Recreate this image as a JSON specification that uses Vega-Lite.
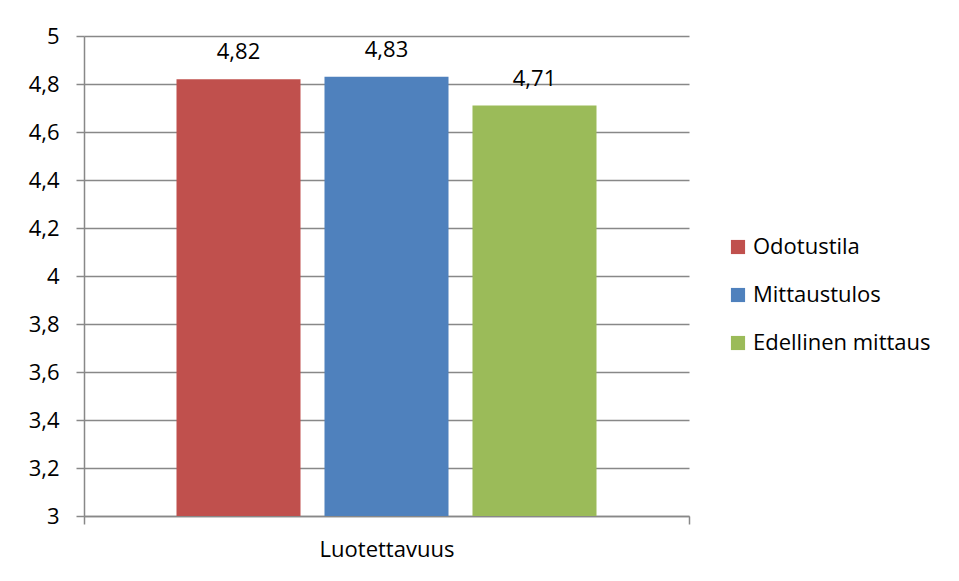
{
  "$schema": "https://vega.github.io/schema/vega-lite/v6.json",
  "width": 605,
  "height": 480,
  "autosize": {"type": "none"},
  "padding": {"left": 84, "top": 36, "right": 270, "bottom": 65},
  "background": "white",
  "config": {
    "locale": {"number": {"decimal": ",", "thousands": " ", "grouping": [3], "currency": ["", " €"]}},
    "font": "Open Sans",
    "view": {"stroke": null},
    "axis": {"labelFont": "Open Sans", "labelFontSize": 22, "labelColor": "black", "domainColor": "#888888", "tickColor": "#888888", "gridColor": "#888888", "domainWidth": 1.5, "tickWidth": 1.5, "gridWidth": 1.5},
    "legend": {"labelFont": "Open Sans", "labelFontSize": 22, "labelColor": "black", "labelLimit": 400}
  },
  "data": {"values": [
    {"cat": "Luotettavuus", "series": "Odotustila", "value": 4.82},
    {"cat": "Luotettavuus", "series": "Mittaustulos", "value": 4.83},
    {"cat": "Luotettavuus", "series": "Edellinen mittaus", "value": 4.71}
  ]},
  "encoding": {
    "x": {"field": "cat", "type": "nominal", "scale": {"paddingInner": 0, "paddingOuter": 0},
      "axis": {"title": null, "labelAngle": 0, "labelPadding": 15, "ticks": true, "tickSize": 8, "tickBand": "extent", "grid": false, "labelBaseline": "top"}},
    "xOffset": {"field": "series", "type": "nominal", "sort": ["Odotustila", "Mittaustulos", "Edellinen mittaus"], "scale": {"paddingInner": 0.162, "paddingOuter": 0.625}},
    "y": {"field": "value", "type": "quantitative", "scale": {"domain": [3, 5], "zero": false, "nice": false},
      "axis": {"title": null, "values": [3, 3.2, 3.4, 3.6, 3.8, 4, 4.2, 4.4, 4.6, 4.8, 5], "format": "~g", "tickSize": 8, "labelPadding": 17, "grid": true}}
  },
  "layer": [
    {
      "mark": {"type": "bar"},
      "encoding": {
        "y2": {"datum": 3},
        "color": {"field": "series", "type": "nominal", "sort": ["Odotustila", "Mittaustulos", "Edellinen mittaus"],
          "scale": {"domain": ["Odotustila", "Mittaustulos", "Edellinen mittaus"], "range": ["#C0504D", "#4F81BD", "#9BBB59"]},
          "legend": {"title": null, "orient": "none", "legendX": 643, "legendY": 200, "symbolType": "square", "symbolSize": 200, "symbolStrokeWidth": 0, "symbolOpacity": 1, "rowPadding": 26, "labelOffset": 4, "labelLimit": 400}}
      }
    },
    {
      "mark": {"type": "text", "baseline": "middle", "dy": -27, "fontSize": 22, "font": "Open Sans", "color": "black"},
      "encoding": {"text": {"field": "value", "type": "quantitative", "format": ".2f"}}
    }
  ]
}
